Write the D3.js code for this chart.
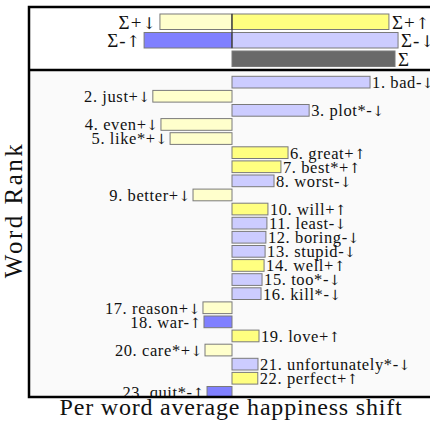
<!DOCTYPE html>
<html lang="en">
<head>
    <meta charset="UTF-8">
    <script src="https://cdn.jsdelivr.net/npm/d3@7.8.5/dist/d3.min.js"></script>
    <title>Word shift</title>
    <style>
        body { margin: 0; background: #fff; }
        text { font-family: "Liberation Serif", serif; fill: #111; }
        tspan.arrow { font-family: "DejaVu Serif"; font-size: 0.85em; }
    </style>
</head>
<body>
    <svg width="430" height="422"></svg>
    <script>
        // summary bars (top panel)
        var sumKinds = ["+↓", "+↑", "-↑", "-↓", ""];
        var sumValues = [-35.5, 77.3, -43.3, 81.8, 80.3];
        var sumRows = [0, 0, 1, 1, 2];

        // per word contributions (bottom panel)
        var words = ["bad", "just", "plot*", "even", "like*", "great", "best*", "worst",
            "better", "will", "least", "boring", "stupid", "well", "too*", "kill*",
            "reason", "war", "love", "care*", "unfortunately*", "perfect", "quit*"];
        var kinds = ["-↓", "+↓", "-↓", "+↓", "+↓", "+↑", "+↑", "-↓",
            "+↓", "+↑", "-↓", "-↓", "-↓", "+↑", "-↓", "-↓",
            "+↓", "-↑", "+↑", "+↓", "-↓", "+↑", "-↑"];
        var values = [68, -39, 38, -35, -30.5, 27.6, 24.1, 20.7,
            -19.2, 17.7, 17.2, 16.7, 16.3, 15.8, 14.8, 14.3,
            -14.3, -13.8, 13.3, -13.3, 12.8, 12.7, -12.3];

        var colors = {"+↑": "#ffff80", "+↓": "#ffffcc", "-↑": "#8080ff", "-↓": "#ccccff", "": "#696969"};

        var svg = d3.select("svg");
        var pLeft = 29, pRight = 435, pTop = 7, pSplit = 70, pBottom = 397;

        var x = d3.scaleLinear().domain([-100, 100]).range([pLeft, pRight]);

        // writes "prefix" then the arrow in a font that has it
        function label(sel, prefix, kind) {
            sel.append("tspan").text(prefix + kind.slice(0, -1));
            sel.append("tspan").attr("class", "arrow").text(kind.slice(-1));
        }

        // top panel
        var yTop = d3.scaleBand().domain([0, 1, 2]).range([12.5, 68]).paddingInner(0.162).paddingOuter(0.081);
        var gTop = svg.append("g");
        gTop.selectAll("rect").data(sumValues).enter().append("rect")
            .attr("x", function(d){ return Math.min(x(d), x(0)); })
            .attr("width", function(d){ return Math.abs(x(d) - x(0)); })
            .attr("y", function(d, i){ return yTop(sumRows[i]); })
            .attr("height", yTop.bandwidth())
            .attr("fill", function(d, i){ return colors[sumKinds[i]]; })
            .attr("stroke", "#7a7a7a").attr("stroke-width", 1);
        gTop.append("line")
            .attr("x1", x(0)).attr("x2", x(0))
            .attr("y1", yTop(0)).attr("y2", yTop(1) + yTop.bandwidth())
            .attr("stroke", "#222").attr("stroke-width", 1);
        gTop.selectAll("text").data(sumValues).enter().append("text")
            .attr("x", function(d){ return d < 0 ? x(d) - 3 : x(d) + 3; })
            .attr("y", function(d, i){ return yTop(sumRows[i]) + yTop.bandwidth() / 2; })
            .attr("dy", "0.36em")
            .attr("text-anchor", function(d){ return d < 0 ? "end" : "start"; })
            .style("font-size", "19px").style("letter-spacing", "1px")
            .each(function(d, i){
                var k = sumKinds[i];
                if (k) label(d3.select(this), "Σ", k);
                else d3.select(this).text("Σ");
            });

        // bottom panel
        svg.append("rect").attr("x", pLeft).attr("y", pSplit).attr("width", pRight - pLeft).attr("height", pBottom - pSplit)
            .attr("fill", "#fafafa");
        svg.append("clipPath").attr("id", "clip").append("rect")
            .attr("x", pLeft).attr("y", pSplit).attr("width", pRight - pLeft).attr("height", pBottom - pSplit);

        var yBot = d3.scaleBand().domain(words).range([76.3, 398.2]).paddingInner(0.17).paddingOuter(0);
        var g = svg.append("g").attr("clip-path", "url(#clip)");
        g.selectAll("rect").data(values).enter().append("rect")
            .attr("x", function(d){ return Math.min(x(d), x(0)); })
            .attr("width", function(d){ return Math.abs(x(d) - x(0)); })
            .attr("y", function(d, i){ return yBot(words[i]); })
            .attr("height", yBot.bandwidth())
            .attr("fill", function(d, i){ return colors[kinds[i]]; })
            .attr("stroke", "#7a7a7a").attr("stroke-width", 1);
        g.selectAll("text").data(values).enter().append("text")
            .attr("x", function(d){ return d < 0 ? x(d) - 2 : x(d) + 2; })
            .attr("y", function(d, i){ return yBot(words[i]) + yBot.bandwidth() / 2; })
            .attr("dy", "0.36em")
            .attr("text-anchor", function(d){ return d < 0 ? "end" : "start"; })
            .style("font-size", "16.5px").style("letter-spacing", "0.6px")
            .each(function(d, i){ label(d3.select(this), (i + 1) + ". " + words[i], kinds[i]); });

        // frame
        svg.append("rect").attr("x", pLeft).attr("y", pTop).attr("width", pRight - pLeft).attr("height", pBottom - pTop)
            .attr("fill", "none").attr("stroke", "#000").attr("stroke-width", 2.5);
        svg.append("line").attr("x1", pLeft).attr("x2", pRight).attr("y1", pSplit).attr("y2", pSplit)
            .attr("stroke", "#000").attr("stroke-width", 2.5);

        // axis labels
        svg.append("text").attr("x", 231).attr("y", 415).attr("text-anchor", "middle")
            .style("font-size", "24px").style("letter-spacing", "0.8px").text("Per word average happiness shift");
        svg.append("text").attr("transform", "translate(22,210) rotate(-90)").attr("text-anchor", "middle")
            .style("font-size", "25px").style("letter-spacing", "2.5px").text("Word Rank");
    </script>
</body>
</html>
